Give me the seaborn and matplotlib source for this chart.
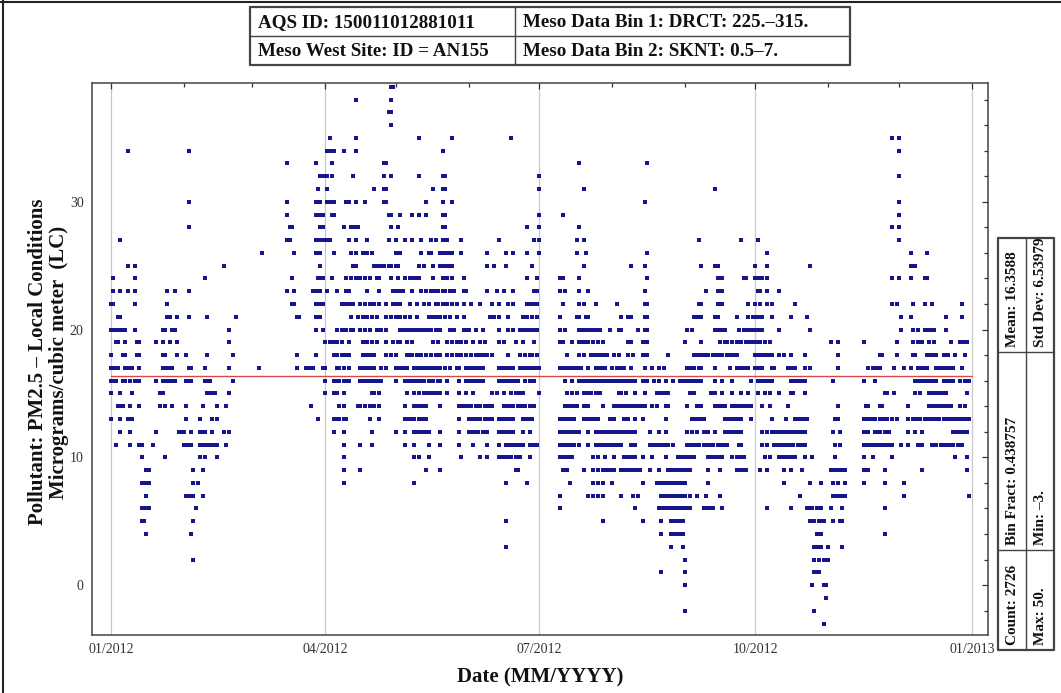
import pandas as pd
import matplotlib
matplotlib.use("Agg")
import matplotlib.pyplot as plt
import matplotlib.dates as mdates
from matplotlib.ticker import MultipleLocator
import seaborn as sns

# PM2.5 levels (integer readings) and, for each level, the days of 2012
# (day 0 = 01/01/2012) where a point sits on that level. "a-b" = a solid
# run of consecutive days as seen in the picture.
pm_levels = [39, 38, 37, 36, 35, 34, 33, 32, 31, 30, 29, 28, 27, 26, 25, 24, 23, 22,
             21, 20, 19, 18, 17, 16, 15, 14, 13, 12, 11, 10, 9, 8, 7, 6, 5, 4, 3, 2,
             1, 0, -1, -2, -3]

days_jan_mar = [
    "", "", "", "", "", "7 33", "75 87", "89-90", "88", "33 75 87-89", "75 87-90",
    "33 76-77 89-90", "4 75-76 87-90", "64 78 87-89", "7 10 48 89", "1 10 40 77 88-90",
    "1 4 7 10 24 27 33 75 78 86-89", "0-1 10 24 77-78 87-90",
    "3-4 24-25 28 33 41 53 79-80 87-89", "0-6 10 22-23 26-27 50 87 90",
    "2-3 6 11-12 19 22 25 28 50", "0 5-6 11-12 22-23 28 32 41 52 79 87",
    "0-3 6-9 12 22-26 33-34 40 50 63 79 83-86 90",
    "0-2 5-6 8 10-12 19 22-27 32-34 40-42 52", "0 4 9 21-22 41-44 50",
    "3-5 8 12 21 23 26 32 39 45 49 85", "0 4 7-9 32 38 43 45 88",
    "4 8 19 29-31 34 38-40 43 48 50", "2 8 12-13 18 31-34 38-39 41-45 49",
    "13 23 38 40 45", "15-16 35 39", "13-16 35 37", "15 32-35 39", "13-16 36",
    "13-14 35", "15 34", "", "35", "", "", "", "", "",
]

days_apr_jun = [
    "119-120", "104 119", "118-119", "119", "93 104 131 145 170", "92-93 95 99 104 141",
    "94 116-117", "92 94 103 116 119 131 141-142", "92 112 116-117 137 141-142",
    "92-95 100-101 104 108 116-117 134 141 145",
    "94-95 118-119 123 128 131 134 141-142", "99 102-105 119 122 141-142 177",
    "91-93 101 104 109 118 121 125 128 132 136 138 141 143 149 165 180",
    "95 102 104 107 109 111 121 123 132 135-136 140-145 149 160 168 171 177",
    "103-104 112-113 115-116 118-119 121-122 131 133 137 140-145 160 163 168 179",
    "94 100 102 104 106 108 110 113-114 119 122 125 127-131 137 141 143 145 150 177 181",
    "92 96 100-101 109 114 120-124 128 132 134 136-139 141-142 144 146 150-151 160 164 "
    "167 171 180-181",
    "98 100-101 103 106 108 110 112 114 117 120-123 127 130 133 135 138-139 141 143 145 "
    "147 150 153 157 162 165 169 171 177-181",
    "102 105 107 109 111 113 117 119 121 123 125 127 130 135-138 140 142 144 147 150 "
    "161 163 165 169 175 177 179 181",
    "96 98 100 102-103 106 108 110 113 115 117 123-130 132-136 138 140 144 146 150-152 "
    "155 158 165 169 171 174-181",
    "91 93 95-96 98 101 107 109 111 113 117 120 122-123 126 128 137 139 143 145 147 149 "
    "151 154 157 159 165 167 172 175 180",
    "95-96 98 100-101 107 109-110 112 117 119 121 126-128 130 132 134 136 138 140 143 "
    "145 147 149 151 153 155 157-158 160 162 169 174 176 178-179 181",
    "91 96-97 99 101 106-112 115 117 121-126 129-138 140 142 144 147-148 151-158 "
    "165-171 174-181",
    "91 95-97 99-101 106-110 112-115 121 125-127 129-133 135-137 139-140 143 148 "
    "151-158 165-167 169-173 176 178 180",
    "91 95-96 99 111-112 114 126 129 131 133-140 143 148 151 154 162 164 167 170 172-175",
    "97 99 105-106 108 110 112 114 125 129-134 140 148-153 155 157 159-162 167-171 "
    "173-176 178 180",
    "95-97 99-100 110 114 125-129 131-134 148 152-157 159-162 165-171 175-179",
    "95 99 111 121 125 129-135 140 148 152-156 158-160 165-171 175 178",
    "99 106 111 125 129 135 140 148 154 160 165 168-175 178-181",
    "99 129 131 135 149 157 160 165-170 172-174 178", "99 106 134 140 172-173",
    "99 129 168 177", "", "", "168", "", "168", "", "", "", "", "", "",
]

days_jul_sep = [
    "", "", "", "", "", "", "199 228", "182", "182 201 257", "227", "182 192", "182 199",
    "182 198 201 250 268 275", "182 198 202 228 279",
    "201 221 227 251 257-258 274 279",
    "191-192 199 228 258 260 269-270 274-277 279",
    "191 193 199 203 227 253 258 260 275-276 279",
    "192 199 201 206 215 227-228 250-251 258 260 271 274 276 279 281",
    "191 198-199 202-203 217 220-221 227-228 248-251 257-258 266 271 273-277 281",
    "191 193 199-208 212 216-217 224 227-228 245 247 257-261 267 269 271-277",
    "191-192 196 199-203 205 207 209 220-221 226 228 244 251 259 261-262 264 266 268 "
    "270-276 278 280",
    "194 199 201 204-211 214 216 220 222 226 228 237 248-254 256-260 262-266 274-281",
    "182 191-200 203 206-210 213 215 217-218 221 227 230 233 235 245-248 250-251 257 "
    "263 266-271 274-275 277 281-282",
    "193 196 199-223 226 228 231 233 236 239 242-251 257 260 264 272 275-281",
    "182 194 196 198 201-204 206 208 216-217 219 223 227 232-237 246 248 255 257 260 "
    "264 268 271 275 278 280",
    "193-198 201 203 209 214-227 230 232 236-237 245 249-251 257-261 264-272 277 280",
    "191-197 201 203-207 212 214 218 220 223 226 236 247-252 261-268 272 281",
    "191-199 203 206-223 229 233 236 245 247 249 252 254 257 261-268 277 279 281-283",
    "191-197 199 203 206-217 221 223 229 231-237 239 245-250 252-256 258-262 267-268 "
    "277 279 282-283",
    "191-196 205 207 210 214 218-223 226 230 236 241-248 254-260 264 266-269 278 280",
    "192 194 201 205 207 209-214 217-225 229 233 237-246 254 259 266-270 276 279",
    "195 205 207 209 213 226 232-244 254",
    "191 203 205 207 209 217 222 224 234-244 246 249 253 259",
    "191 223 233-246 252-256 260 279", "209 226 234 238-243", "234 238-243", "238 243",
    "244", "234 244", "244", "", "244", "",
]

days_oct_dec = [
    "", "", "", "", "332 335", "335", "", "335", "", "335", "335", "332 335", "335",
    "340 347", "297 340 342", "332 335 340 346-347", "284",
    "291 332 334 341 346 349 362", "289 296 336 340 355 362",
    "284 297 336 341 343 346-350 355",
    "306 309 320 334 341 343 345 348 350 357 361-364",
    "284 286 289 295 309 327-328 334 341-342 347-351 354 356 359 363",
    "288-291 295 297 309 322 324-327 333 337 340 343-347 351-358 362",
    "289-295 307 320 325 342-351 354-358 361 363 365",
    "284 289-290 295 329-330 333 342 344 348-355 364",
    "288 309 321-322 327-328 339 348-357 361 363",
    "287 291-296 308-309 320-325 327-330 332 334 339 341-344 346-352 354-360 362-365",
    "284-289 291-295 307 310 320-322 325-327 329-331 339 342 345 358-360 362-364",
    "284-286 288-290 292-295 308 310 320-323 325-332 336 339 343-345 349-351 353-358 "
    "360 362",
    "284-291 295 298 308 320 324 332 359 364",
    "286 289 294 306-312 320 322 329 345 364",
    "286 297 302 307 309 312 320 329 337", "293 307-312 337 365",
    "289 296-298 300-302 306 311 329", "297-299 301-303 307 310-311", "300 302 329",
    "299-302 305 311", "299 301 303 305", "299-301", "298 303-304", "304", "299", "303",
]

mean_value = 16.3588
header_cells = [["AQS ID: 150011012881011", "Meso Data Bin 1: DRCT: 225.\u2013315."],
                ["Meso West Site: ID = AN155", "Meso Data Bin 2: SKNT: 0.5\u20137."]]
stats_inner = ["Mean: 16.3588", "Bin Fract: 0.438757", "Count: 2726"]
stats_outer = ["Std Dev: 6.53979", "Min: \u20133.", "Max: 50."]


def expand(spec):
    out = []
    for tok in spec.split():
        if "-" in tok:
            a, b = tok.split("-")
            out.extend(range(int(a), int(b) + 1))
        else:
            out.append(int(tok))
    return out


rows = []
for block in [days_jan_mar, days_apr_jun, days_jul_sep, days_oct_dec]:
    for level, spec in zip(pm_levels, block):
        for d in expand(spec):
            rows.append((d, level))
df = pd.DataFrame(rows, columns=["day", "pm"])
start = pd.Timestamp("2012-01-01")
df["date"] = start + pd.to_timedelta(df["day"], unit="D")

sns.set_style("white")
plt.rcParams["font.family"] = ["Liberation Serif", "DejaVu Serif"]

W, H = 1061, 693
fig = plt.figure(figsize=(W / 100, H / 100), dpi=100)
ax = fig.add_axes([92 / W, 1 - 635 / H, (988 - 92) / W, (635 - 83) / H])

sns.scatterplot(data=df, x="date", y="pm", marker="s", s=5, color="#15158c",
                linewidth=0, legend=False, ax=ax, zorder=3)
ax.plot([start, start + pd.Timedelta(days=366)], [mean_value, mean_value],
        color="#d24a4a", lw=1.0, zorder=4)

ax.set_xlim(start - pd.Timedelta(days=8.1), start + pd.Timedelta(days=372.9))
ax.set_ylim(-3.9, 39.3)
ax.xaxis.set_major_locator(mdates.MonthLocator(bymonth=[1, 4, 7, 10]))
ax.xaxis.set_minor_locator(mdates.MonthLocator())
ax.xaxis.set_major_formatter(mdates.DateFormatter("%m/%Y"))
ax.yaxis.set_major_locator(MultipleLocator(10))
ax.yaxis.set_minor_locator(MultipleLocator(2))
ax.grid(axis="x", which="major", color="#c8c8c8", lw=0.9)
ax.grid(axis="y", visible=False)
ax.tick_params(which="both", direction="in", top=True, right=True, color="#333333",
               width=0.9, labelsize=10, labelcolor="#333333")
ax.tick_params(which="major", length=4)
ax.tick_params(which="minor", length=3)
ax.tick_params(axis="x", pad=6)
ax.tick_params(axis="y", pad=6)
ax.set_xlabel("")
ax.set_ylabel("")
for sp in ax.spines.values():
    sp.set_color("#444444")
    sp.set_linewidth(1.1)

# overlay in pixel coordinates for labels, header table and stats box
ov = fig.add_axes([0, 0, 1, 1], zorder=10)
ov.set_xlim(0, W)
ov.set_ylim(H, 0)
ov.axis("off")
ov.patch.set_alpha(0)

ov.plot([2.5, 2.5], [0, H], color="#222222", lw=1.5)
ov.plot([0, W], [2, 2], color="#222222", lw=1.5)

bold = dict(fontweight="bold", color="#111111")
ov.text(38, 362, "Pollutant: PM2.5 \u2013 Local Conditions", rotation=90,
        ha="center", va="center", fontsize=15, **bold)
ov.text(59, 362, "Micrograms/cubic meter  (LC)", rotation=90,
        ha="center", va="center", fontsize=15, **bold)
ov.text(540, 677, "Date (MM/YYYY)", ha="center", va="center", fontsize=15, **bold)

# header table
tx = [250, 515, 850]
ty = [7, 36, 65]
ov.plot([tx[0], tx[2], tx[2], tx[0], tx[0]], [ty[0], ty[0], ty[2], ty[2], ty[0]],
        color="#444444", lw=1.6)
ov.plot([tx[0], tx[2]], [ty[1], ty[1]], color="#444444", lw=1.0)
ov.plot([tx[1], tx[1]], [ty[0], ty[2]], color="#444444", lw=1.0)
for r in range(2):
    for c in range(2):
        ov.text(tx[c] + 8, (ty[r] + ty[r + 1]) / 2 + 1, header_cells[r][c],
                ha="left", va="center", fontsize=13.7, **bold)

# stats box (rotated)
bx = [998, 1026, 1054]
by = [238, 352, 550, 650]
ov.plot([bx[0], bx[2], bx[2], bx[0], bx[0]], [by[0], by[0], by[3], by[3], by[0]],
        color="#444444", lw=1.6)
ov.plot([bx[1], bx[1]], [by[0], by[3]], color="#444444", lw=1.0)
for yy in by[1:3]:
    ov.plot([bx[0], bx[2]], [yy, yy], color="#444444", lw=1.0)
for i in range(3):
    ov.text((bx[0] + bx[1]) / 2, by[i + 1] - 5, stats_inner[i], rotation=90,
            ha="center", va="bottom", fontsize=11, **bold)
    ov.text((bx[1] + bx[2]) / 2, by[i + 1] - 5, stats_outer[i], rotation=90,
            ha="center", va="bottom", fontsize=11, **bold)

fig.savefig("out.png", dpi=100, facecolor="white")
